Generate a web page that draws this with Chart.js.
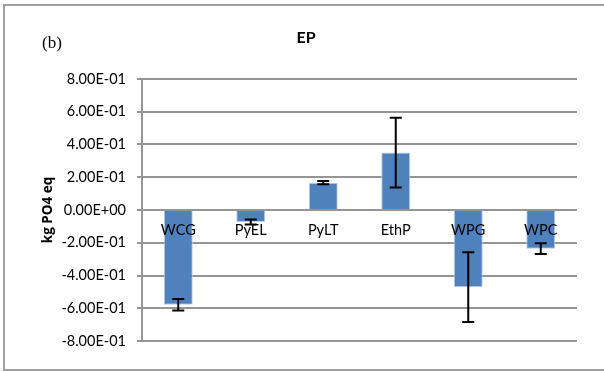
<!DOCTYPE html>
<html>
<head>
<meta charset="utf-8">
<script src="https://cdn.jsdelivr.net/npm/chart.js@4"></script>
<style>
    html, body { margin: 0; padding: 0; background: #fff; }
    #wrap { width: 604px; height: 372px; position: relative; }
</style>
</head>
<body>
<div id="wrap"><canvas id="epChart" width="604" height="372"></canvas></div>
<script>
// dados do gráfico
const categories = ['WCG', 'PyEL', 'PyLT', 'EthP', 'WPG', 'WPC'];
const epValues = [-0.579, -0.073, 0.167, 0.351, -0.471, -0.236];
const epErrors = [0.035, 0.015, 0.010, 0.213, 0.213, 0.033];
const yTicks = [-0.8, -0.6, -0.4, -0.2, 0, 0.2, 0.4, 0.6, 0.8];

const labelFont = 'Lato';

// desenha texto extra, borda e barras de erro
const extrasPlugin = {
    id: 'extras',
    afterDatasetsDraw(chart) {
        const c = chart.ctx;
        const x = chart.scales.x;
        const y = chart.scales.y;
        c.save();
        c.strokeStyle = '#000';
        c.lineWidth = 2;
        epValues.forEach((v, i) => {
            const px = x.getPixelForValue(i);
            const top = y.getPixelForValue(v + epErrors[i]);
            const bot = y.getPixelForValue(v - epErrors[i]);
            c.beginPath();
            c.moveTo(px, top); c.lineTo(px, bot);
            c.moveTo(px - 6, top); c.lineTo(px + 6, top);
            c.moveTo(px - 6, bot); c.lineTo(px + 6, bot);
            c.stroke();
        });
        c.restore();
    },
    afterDraw(chart) {
        const c = chart.ctx;
        c.save();
        // borda externa
        c.strokeStyle = '#a0a0a0';
        c.lineWidth = 2;
        c.strokeRect(4, 5, 610, 365);
        // titulo
        c.fillStyle = '#000';
        c.textAlign = 'center';
        c.textBaseline = 'alphabetic';
        c.font = 'bold 16px ' + labelFont;
        c.fillText('EP', 306, 43);
        // (b)
        c.font = '17px "Liberation Serif"';
        c.textAlign = 'left';
        c.fillText('(b)', 42, 48);
        // titulo do eixo y
        c.translate(52, 210);
        c.rotate(-Math.PI / 2);
        c.textAlign = 'center';
        c.font = 'bold 13.5px "Open Sans"';
        c.fillText('kg PO4 eq', 0, 0);
        c.restore();
    }
};

const ctx = document.getElementById('epChart').getContext('2d');
new Chart(ctx, {
    type: 'bar',
    data: {
        labels: categories,
        datasets: [{
            data: epValues,
            backgroundColor: '#4f81bd',
            borderColor: '#bcd0ea',
            borderWidth: 1,
            barPercentage: 0.4,
            categoryPercentage: 1
        }]
    },
    options: {
        responsive: false,
        animation: false,
        layout: { padding: { left: 0, top: 79, right: 27, bottom: 31 } },
        plugins: {
            legend: { display: false },
            tooltip: { enabled: false }
        },
        scales: {
            x: {
                position: { y: 0 },
                z: 1,
                grid: { display: false, drawTicks: false },
                border: { display: false },
                ticks: {
                    z: 1,
                    color: '#000',
                    padding: 12,
                    font: { family: labelFont, size: 14.5 }
                }
            },
            y: {
                min: -0.8,
                max: 0.8,
                afterBuildTicks: (scale) => {
                    scale.ticks = yTicks.map(v => ({ value: v }));
                },
                afterFit: (scale) => { scale.width = 142; },
                grid: {
                    color: '#959595',
                    lineWidth: 2,
                    tickLength: 5
                },
                border: { color: '#959595', width: 2 },
                ticks: {
                    color: '#000',
                    padding: 11,
                    font: { family: labelFont, size: 14.5 },
                    callback: (v) => {
                        const s = Number(v).toExponential(2).toUpperCase();
                        return s.replace(/E([+-])(\d)$/, 'E$10$2');
                    }
                }
            }
        }
    },
    plugins: [extrasPlugin]
});
</script>
</body>
</html>
